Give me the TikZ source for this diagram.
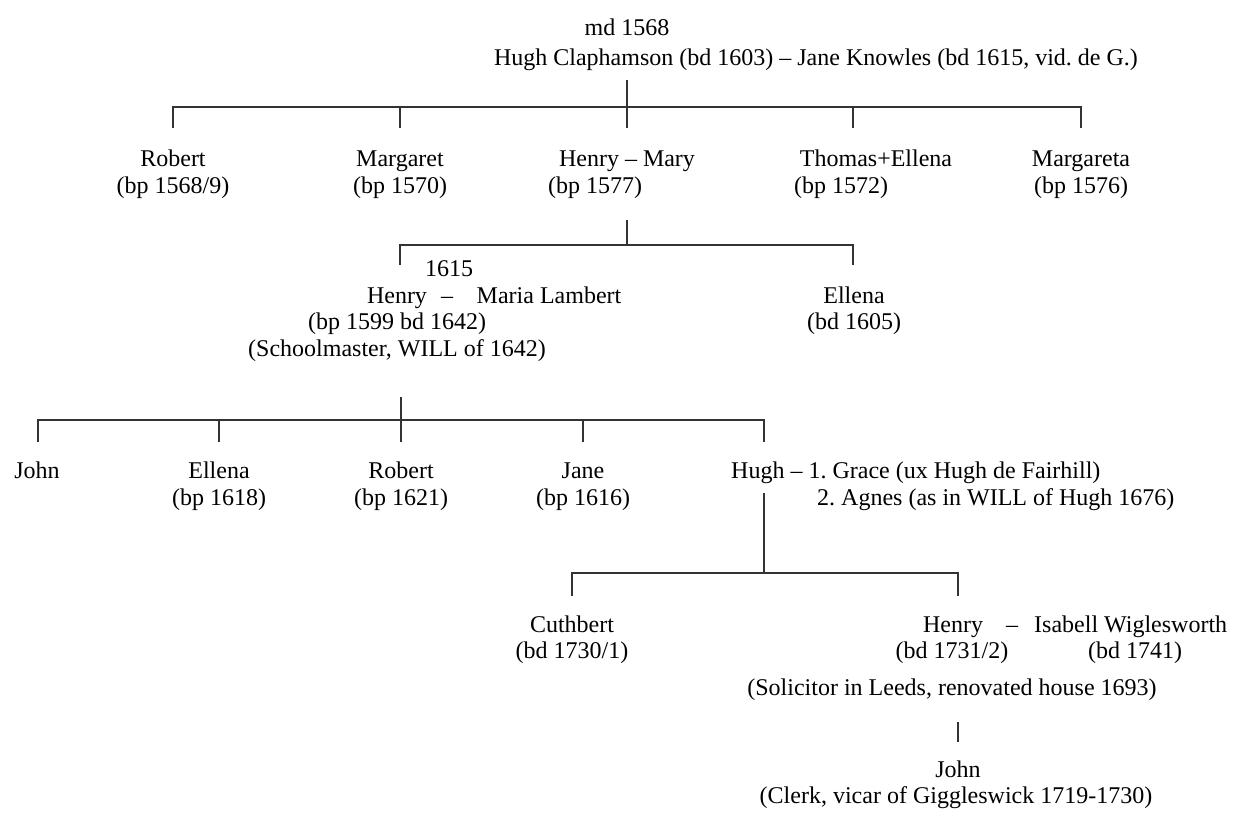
\documentclass[tikz,border=0pt]{standalone}
\usepackage{fontspec}
\setmainfont{Liberation Serif}
\definecolor{ink}{HTML}{333333}

\begin{document}
\begin{tikzpicture}
      [x=1pt,y=-1pt
    % text and line looks
      ,txt/.style={font=\fontsize{24}{27}\selectfont,inner sep=0pt,anchor=base}
      ,lin/.style={draw=ink,line width=1.1pt}
      ]
        \useasboundingbox (0,0) rectangle (1239,812);

    % first couple
        \node[txt] (md) at (627,35) {md 1568};
        \node[txt] (hugh) at (816,65) {Hugh Claphamson (bd 1603) – Jane Knowles (bd 1615, vid.\ de G.)};

    % their children
        \node[txt] (robert) at (173,166) {Robert};
        \node[txt] (robertd) at (173,193) {(bp 1568/9)};
        \node[txt] (margaret) at (400,166) {Margaret};
        \node[txt] (margaretd) at (400,193) {(bp 1570)};
        \node[txt] (henry) at (627,166) {Henry – Mary};
        \node[txt] (henryd) at (595,193) {(bp 1577)};
        \node[txt] (thomas) at (876,166) {Thomas+Ellena};
        \node[txt] (thomasd) at (841,193) {(bp 1572)};
        \node[txt] (margareta) at (1081,166) {Margareta};
        \node[txt] (margaretad) at (1081,193) {(bp 1576)};

    % grandchildren
        \node[txt] (year) at (449,276) {1615};
        \node[txt] (henryb) at (397,303) {Henry};
        \node[txt] (dashb) at (447,303) {–};
        \node[txt] (maria) at (549,303) {Maria Lambert};
        \node[txt] (henrybd) at (397,329) {(bp 1599 bd 1642)};
        \node[txt] (henrybw) at (397,356) {(Schoolmaster, WILL of 1642)};
        \node[txt] (ellena) at (854,303) {Ellena};
        \node[txt] (ellenad) at (854,329) {(bd 1605)};

    % children of Henry and Maria
        \node[txt] (john) at (37,478) {John};
        \node[txt] (ellenc) at (219,478) {Ellena};
        \node[txt] (ellencd) at (219,505) {(bp 1618)};
        \node[txt] (robertc) at (401,478) {Robert};
        \node[txt] (robertcd) at (401,505) {(bp 1621)};
        \node[txt] (jane) at (583,478) {Jane};
        \node[txt] (janed) at (583,505) {(bp 1616)};
        \node[txt,anchor=base west] (hughc) at (731,478) {Hugh – 1.\ Grace (ux Hugh de Fairhill)};
        \node[txt,anchor=base west] (agnes) at (817,505) {2.\ Agnes (as in WILL of Hugh 1676)};

    % children of Hugh
        \node[txt] (cuthbert) at (572,632) {Cuthbert};
        \node[txt] (cuthbertd) at (572,658) {(bd 1730/1)};
        \node[txt] (henryd1) at (953,632) {Henry};
        \node[txt] (dashd) at (1012,632) {–};
        \node[txt,anchor=base west] (isabell) at (1034,632) {Isabell Wiglesworth};
        \node[txt] (henrydd) at (952,658) {(bd 1731/2)};
        \node[txt] (isabelld) at (1135,658) {(bd 1741)};
        \node[txt] (solicitor) at (952,695) {(Solicitor in Leeds, renovated house 1693)};
        \node[txt] (johne) at (958,777) {John};
        \node[txt] (clerk) at (956,803) {(Clerk, vicar of Giggleswick 1719-1730)};

    % family bars
        \coordinate (fa) at (627,107);
        \draw[lin] (fa) -- ++(0,-27);
        \draw[lin] (173,128) -- (173,107) -- (1081,107) -- (1081,128);
        \foreach \x in {400,627,853}
            \draw[lin] (\x,107) -- ++(0,21);

        \coordinate (fb) at (627,245);
        \draw[lin] (fb) -- ++(0,-25);
        \draw[lin] (400,265) -- (400,245) -- (853,245) -- (853,265);

        \coordinate (fc) at (401,420);
        \draw[lin] (fc) -- ++(0,-23);
        \draw[lin] (38,442) -- (38,420) -- (764,420) -- (764,442);
        \foreach \x in {219,401,583}
            \draw[lin] (\x,420) -- ++(0,22);

        \coordinate (fd) at (764,573);
        \draw[lin] (fd) -- ++(0,-80);
        \draw[lin] (572,596) -- (572,573) -- (958,573) -- (958,596);

        \coordinate (fe) at (958,742);
        \draw[lin] (fe) -- ++(0,-20);
\end{tikzpicture}
\end{document}
